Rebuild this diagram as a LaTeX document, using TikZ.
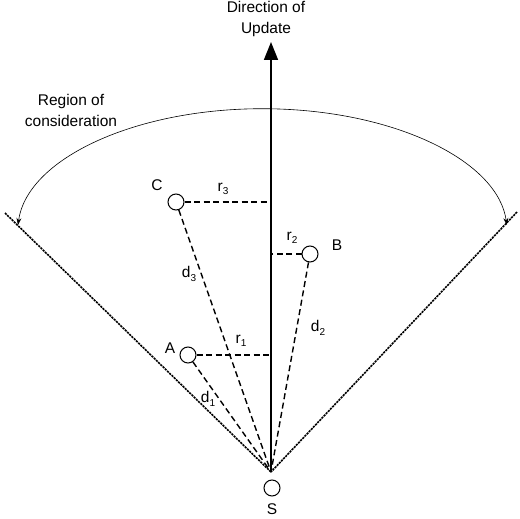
\documentclass[tikz,border=0pt]{standalone}
\usepackage{fontspec}
\setmainfont{Liberation Sans}
\usetikzlibrary{arrows.meta}
\newcommand{\sbs}[1]{\raisebox{-3.5pt}{\fontsize{10}{10}\selectfont #1}}
\begin{document}
\begin{tikzpicture}[x=1pt,y=-1pt,
  pt/.style={circle,draw,line width=1pt,minimum size=16pt,inner sep=0pt},
  lbl/.style={font=\fontsize{15.5}{21}\selectfont,inner sep=0pt},
  dsh/.style={dash pattern=on 6pt off 3.5pt,line width=1.4pt},
  dtt/.style={dash pattern=on 2.2pt off 0.9pt,line width=1.6pt}]
\useasboundingbox (0,0) rectangle (520,519);
\coordinate (O) at (271,472);
\coordinate (T) at (271,42);
\coordinate (L) at (5,213);
\coordinate (R) at (517,212);
\node[pt] (S) at (272,488) {};
\node[pt] (C) at (176,202) {};
\node[pt] (B) at (310,254) {};
\node[pt] (A) at (188,355) {};
% axis
\draw[line width=1.6pt,-{Triangle[length=18pt,width=14pt]}] (O) -- (T);
\node[lbl,align=center] (dir) at (266,19) {Direction of\\Update};
% boundaries
\draw[dtt] (L) -- (O);
\draw[dtt] (R) -- (O);
% region arc
\draw[line width=0.6pt,{Stealth[length=7pt,width=5pt]}-{Stealth[length=7pt,width=5pt]}] (18,225) arc[start angle=184,end angle=356,x radius=245,y radius=125];
\node[lbl,align=center] (reg) at (71,110) {Region of\\consideration};
% perpendiculars
\draw[dsh] (C) -- (C -| O);
\draw[dsh] (B) -- (B -| O);
\draw[dsh] (A) -- (A -| O);
% distances
\draw[dsh] (C) -- (O);
\draw[dsh] (B) -- (O);
\draw[dsh] (A) -- (O);
% labels
\node[lbl] (lC) at (157,185) {C};
\node[lbl] (lB) at (337,245) {B};
\node[lbl] (lA) at (170,348) {A};
\node[lbl] (lS) at (272,509) {S};
\node[lbl] (r3) at (223,189) {r\sbs{3}};
\node[lbl] (r2) at (292,238) {r\sbs{2}};
\node[lbl] (r1) at (241,341) {r\sbs{1}};
\node[lbl] (d3) at (189,274) {d\sbs{3}};
\node[lbl] (d2) at (318,328) {d\sbs{2}};
\node[lbl] (d1) at (208,399) {d\sbs{1}};
\end{tikzpicture}
\end{document}
